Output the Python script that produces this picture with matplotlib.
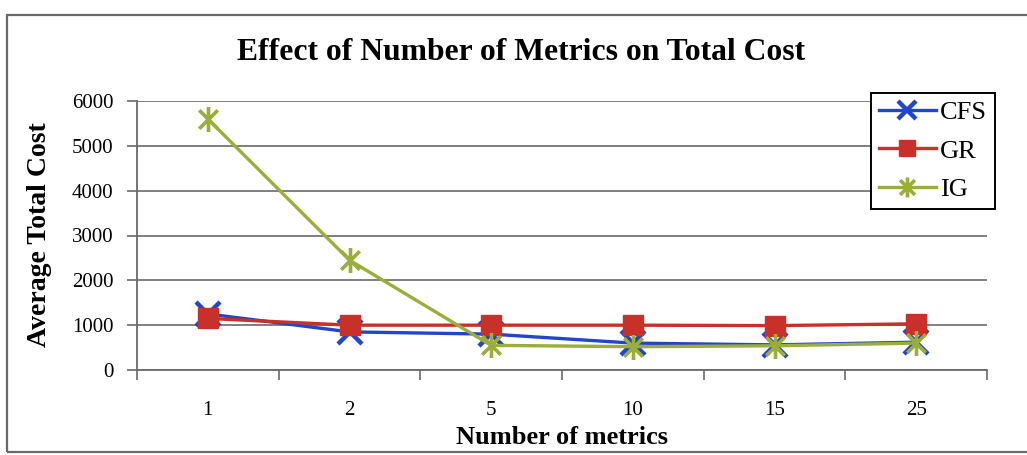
import matplotlib
matplotlib.use("Agg")
import matplotlib.pyplot as plt
from matplotlib.path import Path
from matplotlib.patches import Rectangle
import numpy as np

categories = ["1", "2", "5", "10", "15", "25"]
cfs = [1250, 850, 800, 600, 560, 620]
gr = [1150, 1000, 1000, 1000, 990, 1030]
ig = [5600, 2450, 550, 520, 540, 600]

plt.rcParams["font.family"] = ["Liberation Serif", "DejaVu Serif"]

W, H = 1027, 455
fig = plt.figure(figsize=(W / 100, H / 100), dpi=100)

# chart border
fig.add_artist(Rectangle((7 / W, 3 / H), 1.2, (H - 15 - 3) / H, transform=fig.transFigure,
                         fill=False, edgecolor="#6a6a6a", linewidth=1.6, clip_on=False))

ax = fig.add_axes([137 / W, 1 - 370 / H, (987 - 137) / W, (370 - 101) / H])

x = np.arange(len(categories)) + 0.5

# asterisk marker: an x with a vertical stroke
star = Path([(-1, -1), (1, 1), (-1, 1), (1, -1), (0, -1.35), (0, 1.35)],
            [Path.MOVETO, Path.LINETO, Path.MOVETO, Path.LINETO, Path.MOVETO, Path.LINETO])

c_blue = "#2146c8"
c_red = "#c8302a"
c_green = "#9bad3a"

ax.plot(x, cfs, color=c_blue, lw=2.4, marker="x", ms=17, mew=3.2, label="CFS", zorder=3)
ax.plot(x, gr, color=c_red, lw=2.4, marker="s", ms=15, mfc=c_red, mec=c_red, label="GR", zorder=4)
ax.plot(x, ig, color=c_green, lw=2.4, marker=star, ms=18, mew=2.6, mec=c_green, mfc="none",
        label="IG", zorder=5)

ax.set_xlim(0, len(categories))
ax.set_ylim(0, 6000)
ax.set_yticks(np.arange(0, 6001, 1000))
ax.tick_params(axis="y", labelsize=15, length=7, width=1.2, color="#6a6a6a", pad=10)
ax.set_xticks(np.arange(0, len(categories) + 1))
ax.set_xticklabels([])
ax.set_xticks(x, minor=True)
ax.set_xticklabels(categories, minor=True)
ax.tick_params(axis="x", which="major", length=7, width=1.2, color="#6a6a6a", direction="out")
ax.tick_params(axis="x", which="minor", length=0, labelsize=15, pad=22)

ax.yaxis.grid(True, color="#6a6a6a", lw=1.2)
ax.set_axisbelow(True)
for s in ["top", "right"]:
    ax.spines[s].set_visible(False)
for s in ["left", "bottom"]:
    ax.spines[s].set_color("#6a6a6a")
    ax.spines[s].set_linewidth(1.3)

fig.text(521 / W, 1 - 52 / H, "Effect of Number of Metrics on Total Cost",
         ha="center", va="center", fontsize=22.8, fontweight="bold")
fig.text(40 / W, 1 - 235 / H, "Average Total Cost", rotation=90,
         ha="center", va="center", fontsize=20, fontweight="bold")
fig.text(562 / W, 1 - 437 / H, "Number of metrics",
         ha="center", va="center", fontsize=19, fontweight="bold")

leg = fig.legend(loc="upper left", bbox_to_anchor=(871 / W, 1 - 93 / H), fontsize=19,
                 frameon=True, fancybox=False, edgecolor="black", framealpha=1,
                 handlelength=2.15, labelspacing=0.56, borderpad=0.3, handletextpad=0.15,
                 borderaxespad=0, markerscale=0.8)
leg.get_frame().set_linewidth(1.4)

fig.savefig("out.png", dpi=100)
